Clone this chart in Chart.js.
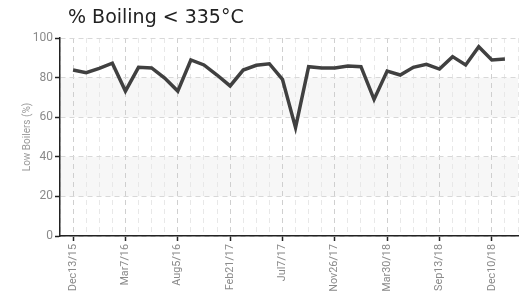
<!DOCTYPE html>
<html>
<head>
<meta charset="utf-8">
<script src="https://cdn.jsdelivr.net/npm/chart.js@4.4.1/dist/chart.umd.min.js"></script>
<style>
  html, body { margin: 0; padding: 0; background: #fff; }
  #wrap { width: 519px; height: 297px; position: relative; }
</style>
</head>
<body>
<div id="wrap"><canvas id="boilChart"></canvas></div>
<script>
// values (one per sample)
const boiling = [83.8, 82.5, 84.7, 87.3, 73.2, 85.2, 84.9, 79.8, 73.2, 88.9, 86.4, 81.3,
                 75.8, 83.8, 86.2, 87.0, 79.1, 54.7, 85.5, 84.9, 84.9, 85.8, 85.5, 69.0,
                 83.3, 81.3, 85.2, 86.7, 84.3, 90.6, 86.4, 95.6, 88.9, 89.4];
// date labels shown every 4th sample
const tickLabels = ['Dec13/15', 'Mar7/16', 'Aug5/16', 'Feb21/17', 'Jul7/17',
                    'Nov26/17', 'Mar30/18', 'Sep13/18', 'Dec10/18'];
const labelEvery = 4;
const yTicks = [0, 20, 40, 60, 80, 100];
const shadedBands = [[60, 80], [20, 40]];

// the original uses a condensed face; pick one if the system has it
function pickNarrow(size, targetWidth) {
    const c = document.createElement('canvas').getContext('2d');
    const fams = ["'Noto Sans'", "'Open Sans'", "Roboto", "'DejaVu Sans'", "'Liberation Sans'"];
    for (const f of fams) {
        c.font = size + 'px ' + f;
        const normal = c.measureText('Dec13/15').width;
        c.font = 'condensed ' + size + 'px ' + f;
        const cond = c.measureText('Dec13/15').width;
        if (c.font.indexOf('condensed') >= 0 && cond < normal * 0.92) {
            return { family: f, weight: 'condensed', size: size };
        }
    }
    c.font = size + 'px Roboto';
    const w = c.measureText('Dec13/15').width;
    return { family: 'Roboto', weight: 'normal', size: Math.round(size * targetWidth / w * 10) / 10 };
}
const tickFont = pickNarrow(13, 47);
const yTickFont = Object.assign({}, tickFont, { size: tickFont.weight === 'condensed' ? 13 : 12 });
const titleFont = Object.assign({}, tickFont, { size: tickFont.weight === 'condensed' ? 12 : 10 });

// one empty slot before and after the samples
const labels = [''];
boiling.forEach((v, i) => {
    labels.push(i % labelEvery === 0 ? (tickLabels[i / labelEvery] || '') : '');
});
labels.push('');
const series = [null].concat(boiling, [null]);

const bandsPlugin = {
    id: 'bands',
    beforeDraw(chart) {
        const {ctx, chartArea, scales} = chart;
        ctx.save();
        ctx.fillStyle = '#f7f7f7';
        shadedBands.forEach(b => {
            const top = scales.y.getPixelForValue(b[1]);
            const bot = scales.y.getPixelForValue(b[0]);
            ctx.fillRect(chartArea.left, top, chartArea.right - chartArea.left, bot - top);
        });
        ctx.restore();
    },
    afterDraw(chart) {
        const ctx = chart.ctx;
        ctx.save();
        ctx.fillStyle = '#222';
        ctx.font = "19px 'DejaVu Sans', sans-serif";
        ctx.textBaseline = 'alphabetic';
        ctx.fillText('% Boiling < 335°C', 68, 23);
        ctx.restore();
    }
};

const isLabelled = i => labels[i] !== undefined && labels[i] !== '';

new Chart(document.getElementById('boilChart').getContext('2d'), {
    type: 'line',
    data: {
        labels: labels,
        datasets: [{
            label: '% Boiling < 335°C',
            data: series,
            borderColor: '#404040',
            borderWidth: 3.5,
            pointRadius: 0,
            tension: 0,
            spanGaps: false
        }]
    },
    options: {
        responsive: true,
        maintainAspectRatio: false,
        animation: false,
        layout: { padding: { top: 38, right: 1, left: 0, bottom: 0 } },
        plugins: {
            legend: { display: false },
            title: { display: false },
            tooltip: { enabled: false }
        },
        scales: {
            x: {
                type: 'category',
                offset: false,
                border: { display: true, color: '#222', width: 1.5, dash: [5, 4] },
                grid: {
                    color: c => isLabelled(c.index) ? '#cfcfcf' : '#e8e8e8',
                    tickColor: c => isLabelled(c.index) ? '#222' : 'rgba(0,0,0,0)',
                    tickBorderDash: [],
                    tickLength: 5,
                    tickWidth: 1.5
                },
                ticks: {
                    autoSkip: false,
                    maxRotation: 90,
                    minRotation: 90,
                    padding: 3,
                    color: '#8a8a8a',
                    font: tickFont
                },
                afterFit(scale) {
                    scale.height = 61;
                    scale.paddingLeft = 0;
                    scale.paddingRight = 0;
                }
            },
            y: {
                min: 0,
                max: 100,
                afterBuildTicks(scale) { scale.ticks = yTicks.map(v => ({ value: v })); },
                border: { display: true, color: '#222', width: 1.5, dash: [5, 4] },
                grid: {
                    color: '#d8d8d8',
                    tickColor: '#222',
                    tickBorderDash: [],
                    tickLength: 5,
                    tickWidth: 1.5
                },
                ticks: {
                    color: '#8a8a8a',
                    padding: 2,
                    font: yTickFont
                },
                title: {
                    display: true,
                    text: 'Low Boilers (%)',
                    color: '#9a9a9a',
                    padding: { top: 21, bottom: 0 },
                    font: titleFont
                },
                afterFit(scale) {
                    scale.width = 60;
                    scale.paddingTop = 0;
                    scale.paddingBottom = 0;
                }
            }
        }
    },
    plugins: [bandsPlugin]
});
</script>
</body>
</html>
